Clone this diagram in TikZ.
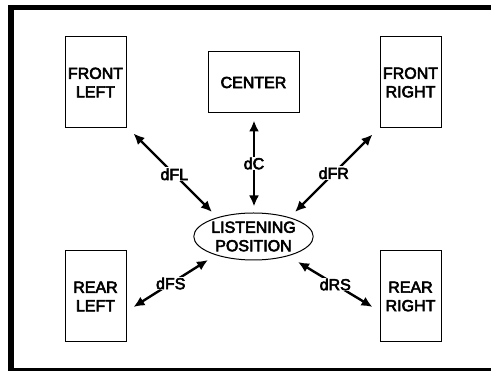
\documentclass[tikz,border=0pt]{standalone}
\usepackage{fontspec}
\setmainfont{Liberation Sans}
\newfontfamily\medsans{Liberation Sans}[FakeBold=3.5]
\usetikzlibrary{arrows.meta,shapes.geometric,calc}
\begin{document}
\begin{tikzpicture}[x=1pt,y=-1pt,
  txt/.style={font=\medsans\fontsize{16}{18.5}\selectfont,align=center},
  tallbox/.style={txt,draw,line width=1pt,minimum width=61pt,minimum height=91pt,inner sep=0pt},
  widebox/.style={txt,draw,line width=1pt,minimum width=91pt,minimum height=61pt,inner sep=0pt},
  listener/.style={txt,draw,ellipse,line width=1pt,minimum width=109pt,minimum height=47pt,inner sep=0pt},
  arr/.style={line width=2.4pt,{Latex[length=11pt,width=10pt]}-{Latex[length=11pt,width=10pt]}},
  lab/.style={txt,fill=white,inner sep=1pt}]
\useasboundingbox (0,0) rectangle (491,371);
% frame
\draw[line width=6pt] (11,5) -- (11,371);
\draw[line width=5pt] (8,7.5) -- (491,7.5);
\draw[line width=3.5pt] (8,369.5) -- (491,369.5);
% speakers
\node[tallbox] (FL) at (95.5,82.5) {FRONT\\LEFT};
\node[widebox] (C) at (253.5,82.5) {CENTER};
\node[tallbox] (FR) at (410.5,82.5) {FRONT\\RIGHT};
\node[tallbox] (RL) at (95.5,296.5) {REAR\\LEFT};
\node[tallbox] (RR) at (410.5,296.5) {REAR\\RIGHT};
\node[listener] (L) at (253.5,236.5) {LISTENING\\POSITION};
% connectors
\draw[arr] ($(FL.south east)+(7,5)$) -- node[lab,pos=0.52]{dFL} ($(L.center)+(-41.5,-24.5)$);
\draw[arr] ($(C.south)+(0.5,7)$) -- node[lab]{dC} ($(L.north)+(0.5,-6)$);
\draw[arr] ($(FR.south west)+(-7,6)$) -- node[lab]{dFR} ($(L.center)+(41.5,-24.5)$);
\draw[arr] ($(L.center)+(-45.5,23.5)$) -- node[lab]{dFS} ($(RL.east)+(7,10.5)$);
\draw[arr] ($(L.center)+(44.5,25.5)$) -- node[lab]{dRS} ($(RR.west)+(-7,10.5)$);
\end{tikzpicture}
\end{document}
